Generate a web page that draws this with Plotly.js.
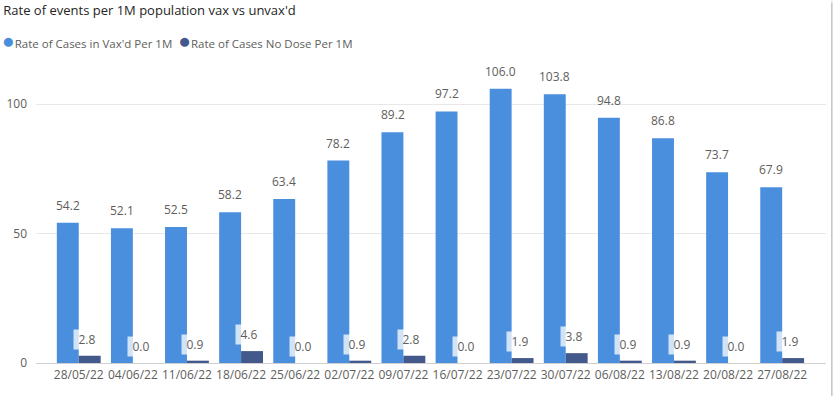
<!DOCTYPE html>
<html>
<head>
<meta charset="utf-8">
<script src="https://cdn.plot.ly/plotly-3.0.1.min.js"></script>
<style>
  html, body { margin: 0; padding: 0; background: #ffffff; }
  #chart { width: 831px; height: 396px; box-shadow: 1px 2px 3px rgba(0,0,0,0.35); }
</style>
</head>
<body>
<div id="chart"></div>
<script>
// weekly dates
const weeks = ['28/05/22', '04/06/22', '11/06/22', '18/06/22', '25/06/22', '02/07/22', '09/07/22',
               '16/07/22', '23/07/22', '30/07/22', '06/08/22', '13/08/22', '20/08/22', '27/08/22'];

// rate per 1M
const vaxRate    = [54.2, 52.1, 52.5, 58.2, 63.4, 78.2, 89.2, 97.2, 106.0, 103.8, 94.8, 86.8, 73.7, 67.9];
const noDoseRate = [2.8, 0.0, 0.9, 4.6, 0.0, 0.9, 2.8, 0.0, 1.9, 3.8, 0.9, 0.9, 0.0, 1.9];

const seriesNames = ["Rate of Cases in Vax'd Per 1M", 'Rate of Cases No Dose Per 1M'];
const yTicks = [0, 50, 100];

const blue = '#4A8EDE';
const navy = '#44598B';
const grey = '#605E5C';
const font = 'Open Sans, Segoe UI, sans-serif';

const data = [
  { type: 'bar', x: weeks, y: vaxRate, name: seriesNames[0], marker: { color: blue }, hoverinfo: 'x+y' },
  { type: 'bar', x: weeks, y: noDoseRate, name: seriesNames[1], marker: { color: navy }, hoverinfo: 'x+y' }
];

// data labels
const annotations = [];
weeks.forEach((w, i) => {
  annotations.push({
    x: w, y: vaxRate[i], xref: 'x', yref: 'y', xshift: -10.8, yshift: 7,
    yanchor: 'bottom', showarrow: false, text: vaxRate[i].toFixed(1),
    font: { family: font, size: 12, color: grey }
  });
  annotations.push({
    x: w, y: noDoseRate[i], xref: 'x', yref: 'y', xshift: 8, yshift: 6,
    yanchor: 'bottom', showarrow: false, text: noDoseRate[i].toFixed(1),
    width: 24, bgcolor: 'rgba(255,255,255,0.75)', borderpad: 1,
    font: { family: font, size: 12, color: grey }
  });
});

// legend drawn as text with coloured dots
const dot = c => '<span style="color:' + c + ';font-size:21px">●</span>';
annotations.push({
  xref: 'paper', yref: 'paper', x: -0.046, y: 1.049, xanchor: 'left', yanchor: 'middle', showarrow: false,
  text: dot(blue) + seriesNames[0] + '  ' + dot(navy) + seriesNames[1],
  font: { family: font, size: 11.5, color: grey }
});

const layout = {
  width: 831,
  height: 396,
  margin: { l: 36, r: 5, t: 55, b: 33 },
  paper_bgcolor: '#ffffff',
  plot_bgcolor: '#ffffff',
  title: {
    text: "Rate of events per 1M population vax vs unvax'd",
    x: 0.004, xanchor: 'left', y: 0.985, yanchor: 'top',
    font: { family: font, size: 13, color: '#252423' }
  },
  showlegend: false,
  barmode: 'group',
  bargap: 0.19,
  bargroupgap: 0,
  xaxis: {
    type: 'category',
    range: [-0.79, 13.81],
    showgrid: false,
    showline: false,
    zeroline: false,
    ticks: '',
    ticklabelstandoff: 3,
    tickfont: { family: font, size: 12, color: grey }
  },
  yaxis: {
    range: [0, 119],
    tickvals: yTicks,
    showgrid: true,
    gridcolor: '#E8E8E8',
    zeroline: true,
    zerolinecolor: '#D0D0D0',
    zerolinewidth: 1,
    ticks: '',
    ticklabelstandoff: 8,
    tickfont: { family: font, size: 12, color: grey }
  },
  annotations: annotations
};

Plotly.newPlot('chart', data, layout, { displayModeBar: false, staticPlot: true });
</script>
</body>
</html>
